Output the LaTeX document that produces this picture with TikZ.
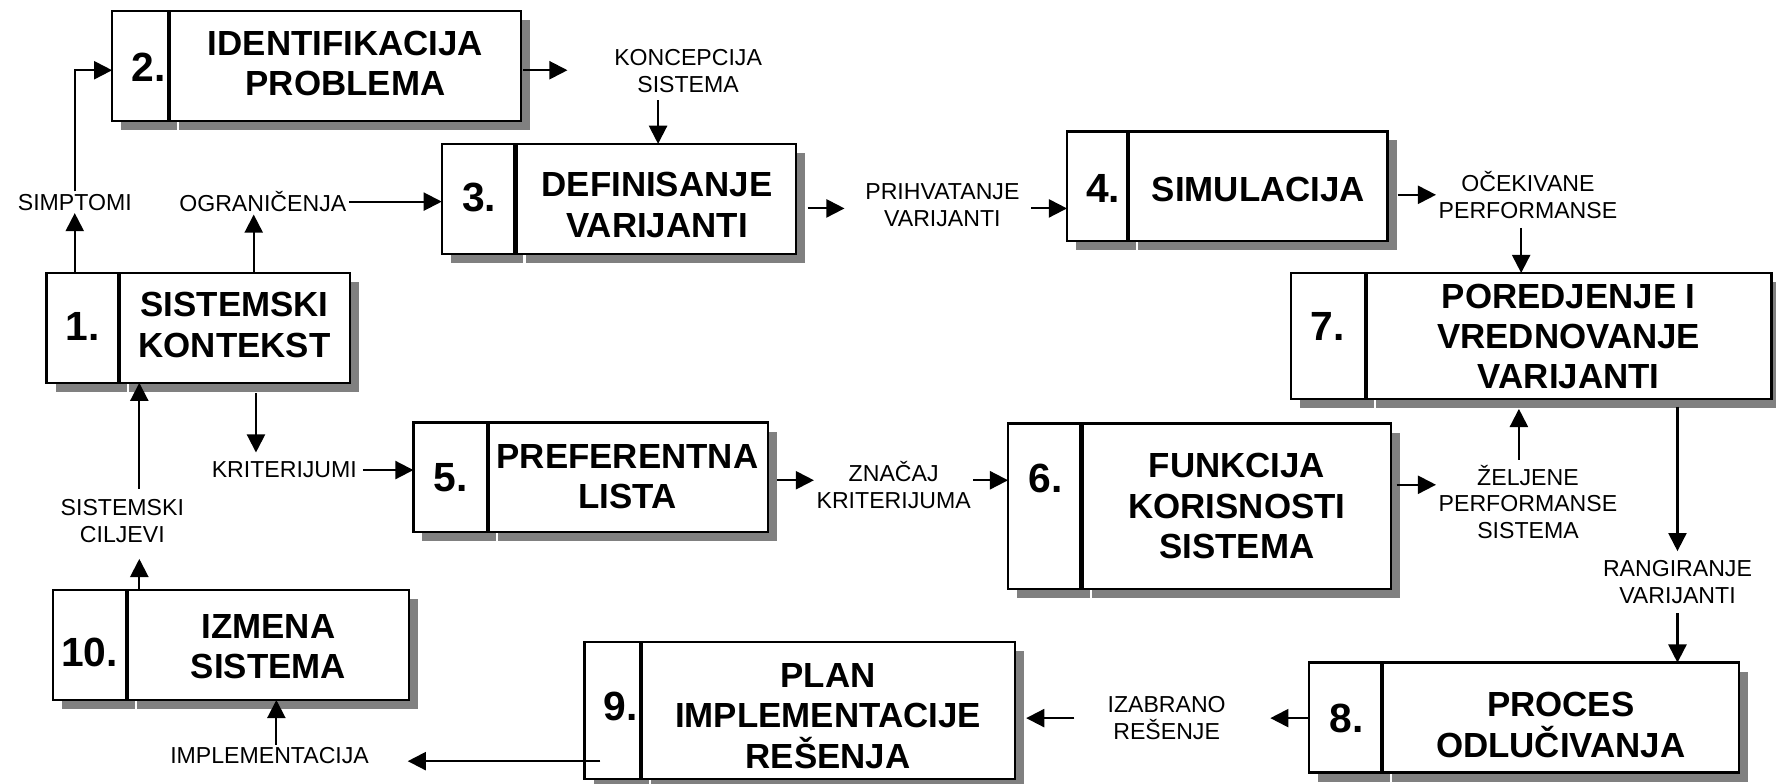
\documentclass[tikz,border=0pt]{standalone}
\usepackage{fontspec}
\setmainfont{Liberation Sans}
\usetikzlibrary{arrows.meta,shadows}
\definecolor{shgray}{HTML}{808080}
\tikzset{
  cell/.style={draw, line width=1pt, fill=white, inner sep=0pt, outer sep=0pt,
    drop shadow={shadow xshift=4pt, shadow yshift=-4pt, fill=shgray, opacity=1}},
  num/.style={font=\bfseries\fontsize{18}{20}\selectfont, inner sep=0pt},
  ttl/.style={font=\bfseries\fontsize{15.4}{17.8}\selectfont, align=center, inner sep=0pt},
  lbl/.style={font=\fontsize{10.2}{11.8}\selectfont, align=center, inner sep=1pt},
  arr/.style={line width=0.9pt, -{Triangle[length=8pt,width=8pt]}},
}
% #1 name, #2 left, #3 top, #4 divider, #5 right, #6 bottom
\newcommand\procbox[6]{%
  \node[cell, minimum width={(#4-#2-1)*0.5pt}, minimum height={(#6-#3)*0.5pt}]
    (#1n) at ({(#2+#4-1)/2},{(#3+#6)/2}) {};
  \node[cell, minimum width={(#5-#4-1)*0.5pt}, minimum height={(#6-#3)*0.5pt}]
    (#1t) at ({(#4+1+#5)/2},{(#3+#6)/2}) {};
}
\begin{document}
\begin{tikzpicture}[x=0.5pt,y=-0.5pt]
\useasboundingbox (0,0) rectangle (1568,692);

% boxes
\procbox{b1}{41}{241}{105}{309}{338}
\procbox{b2}{99}{10}{149}{460}{107}
\procbox{b3}{390}{127}{455}{703}{224}
\procbox{b4}{942}{116}{996}{1225}{213}
\procbox{b5}{365}{373}{431}{678}{470}
\procbox{b6}{890}{374}{955}{1228}{520}
\procbox{b7}{1140}{241}{1206}{1564}{352}
\procbox{b8}{1156}{585}{1220}{1535}{682}
\procbox{b9}{516}{567}{566}{896}{688}
\procbox{b10}{47}{521}{112}{361}{618}

% numbers
\node[num] (n1) at (73,288) {1.};
\node[num] (n2) at (131,59) {2.};
\node[num] (n3) at (423,174) {3.};
\node[num] (n4) at (974,166) {4.};
\node[num] (n5) at (398,422) {5.};
\node[num] (n6) at (923,422) {6.};
\node[num] (n7) at (1172,288) {7.};
\node[num] (n8) at (1189,634) {8.};
\node[num] (n9) at (548,624) {9.};
\node[num] (n10) at (79,576) {10.};

% titles
\node[ttl] (t1) at (207,287) {SISTEMSKI\\KONTEKST};
\node[ttl] (t2) at (305,56) {IDENTIFIKACIJA\\PROBLEMA};
\node[ttl] (t3) at (580,181) {DEFINISANJE\\VARIJANTI};
\node[ttl] (t4) at (1111,167) {SIMULACIJA};
\node[ttl] (t5) at (554,421) {PREFERENTNA\\LISTA};
\node[ttl] (t6) at (1092,447) {FUNKCIJA\\KORISNOSTI\\SISTEMA};
\node[ttl] (t7) at (1385,297) {POREDJENJE I\\VREDNOVANJE\\VARIJANTI};
\node[ttl] (t8) at (1378,640) {PROCES\\ODLUČIVANJA};
\node[ttl] (t9) at (731,632) {PLAN\\IMPLEMENTACIJE\\REŠENJA};
\node[ttl] (t10) at (237,571) {IZMENA\\SISTEMA};

% labels
\node[lbl] (simp) at (66,178.5) {SIMPTOMI};
\node[lbl] (ogr) at (232,178) {OGRANIČENJA};
\node[lbl] (konc) at (607.5,63) {KONCEPCIJA\\SISTEMA};
\node[lbl] (prih) at (832,181) {PRIHVATANJE\\VARIJANTI};
\node[lbl] (ocek) at (1349,172) {OČEKIVANE\\PERFORMANSE};
\node[lbl] (krit) at (251,415) {KRITERIJUMI};
\node[lbl] (cilj) at (108,460) {SISTEMSKI\\CILJEVI};
\node[lbl] (znac) at (789,428) {ZNAČAJ\\KRITERIJUMA};
\node[lbl] (zelj) at (1349,443) {ŽELJENE\\PERFORMANSE\\SISTEMA};
\node[lbl] (rang) at (1481,514) {RANGIRANJE\\VARIJANTI};
\node[lbl] (izab) at (1030,634) {IZABRANO\\REŠENJE};
\node[lbl] (impl) at (238,667) {IMPLEMENTACIJA};

\coordinate (c2) at (501,62);
\coordinate (c9) at (360,672);
\coordinate (c6) at ([shift={(2.5pt,9.5pt)}]b6t.east);

% connectors
\draw[arr] (simp.south |- b1n.north) -- (simp.south);
\draw[arr] (simp.north) |- ([yshift=-1.75pt]b2n.west);
\draw[arr] ([xshift=-4pt]ogr.south |- b1t.north) -- ([xshift=-4pt]ogr.south);
\draw[arr] (ogr.east) -- (ogr.east -| b3n.west);
\draw[arr] ([xshift=1pt]b2t.east |- c2) -- (c2);
\draw[arr, shorten <=2pt] ([xshift=-13.25pt]konc.south) -- ([xshift=-13.25pt]konc.south |- b3t.north);
\draw[arr] ([shift={(5pt,-1.5pt)}]b3t.east |- prih.west) -- ([shift={(-8pt,-1.5pt)}]prih.west);
\draw[arr] ([shift={(4pt,-1.5pt)}]prih.east) -- ([yshift=-1.5pt]prih.east -| b4n.west);
\draw[arr] ([xshift=4.5pt]b4t.east |- ocek.west) -- (ocek.west);
\draw[arr, shorten <=3pt] ([xshift=-3pt]ocek.south) -- ([xshift=-3pt]ocek.south |- b7t.north);
\draw[arr, shorten <=4.5pt, shorten >=3pt] ([xshift=-12.5pt]krit.north |- b1t.south) -- ([xshift=-12.5pt]krit.north);
\draw[arr] ([xshift=1.5pt]krit.east) -- (krit.east -| b5n.west);
\draw[arr, shorten <=3.5pt] ([xshift=7.5pt]cilj.north) -- ([xshift=7.5pt]cilj.north |- b1t.south);
\draw[arr, shorten >=6pt] ([xshift=7.5pt]cilj.south |- b10t.north) -- ([xshift=7.5pt]cilj.south);
\draw[arr] ([shift={(4pt,2pt)}]b5t.east |- znac.west) -- ([yshift=2pt]znac.west);
\draw[arr] ([yshift=2pt]znac.east) -- ([yshift=2pt]znac.east -| b6n.west);
\draw[arr] (c6) -- (c6 -| zelj.west);
\draw[arr, shorten <=1pt, shorten >=4.5pt] ([xshift=-4pt]zelj.north) -- ([xshift=-4pt]zelj.north |- b7t.south);
\draw[arr, shorten <=3.5pt, shorten >=3pt] (rang.north |- b7t.south) -- (rang.north);
\draw[arr, shorten <=3pt] (rang.south) -- (rang.south |- b8t.north);
\draw[arr] (b8n.west |- izab.east) -- ([xshift=18.5pt]izab.east);
\draw[arr] ([xshift=-13.5pt]izab.west) -- ([xshift=5pt]izab.west -| b9t.east);
\draw[arr] ([xshift=7pt]b9n.west |- c9) -- (c9);
\draw[arr] ([xshift=3pt]impl.north) -- ([xshift=3pt]impl.north |- b10t.south);
\end{tikzpicture}
\end{document}
